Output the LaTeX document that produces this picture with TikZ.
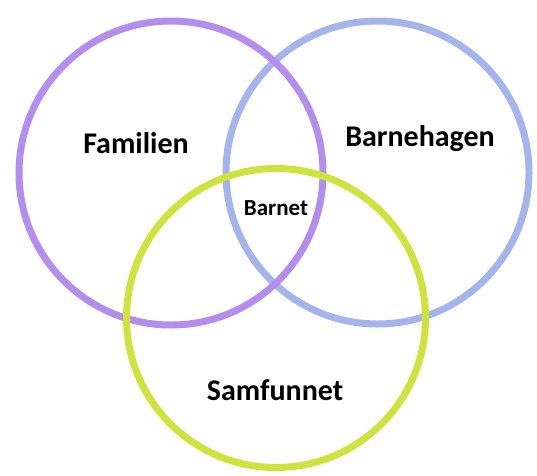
\documentclass[tikz,border=0pt]{standalone}
\usepackage{fontspec}
\setmainfont{Carlito}
\definecolor{ringpurple}{RGB}{180,142,238}
\definecolor{ringblue}{RGB}{164,180,236}
\definecolor{ringgreen}{RGB}{206,227,62}
\tikzset{
  ring/.style={circle, line width=7pt, inner sep=0pt, minimum size=#1, fill=none},
  biglabel/.style={font=\fontsize{30}{36}\selectfont\bfseries, inner sep=0pt},
  smalllabel/.style={font=\fontsize{23}{27}\selectfont\bfseries, inner sep=0pt}
}
\begin{document}
\begin{tikzpicture}[x=1pt, y=-1pt]
  \useasboundingbox (0,0) rectangle (537,475);
  % the three circles
  \node[ring=303pt, draw=ringblue] (barnehage) at (377.5,172.5) {};
  \node[ring=304pt, draw=ringpurple] (familie) at (171,173) {};
  \node[ring=299pt, draw=ringgreen] (samfunn) at (276,318) {};

  % labels
  \node[biglabel] (familien) at (136,143) {Familien};
  \node[biglabel] (barnehagen) at (420,139) {Barnehagen};
  \node[smalllabel] (barnet) at (276,208) {Barnet};
  \node[biglabel] (samfunnet) at (275,390) {Samfunnet};
\end{tikzpicture}
\end{document}
